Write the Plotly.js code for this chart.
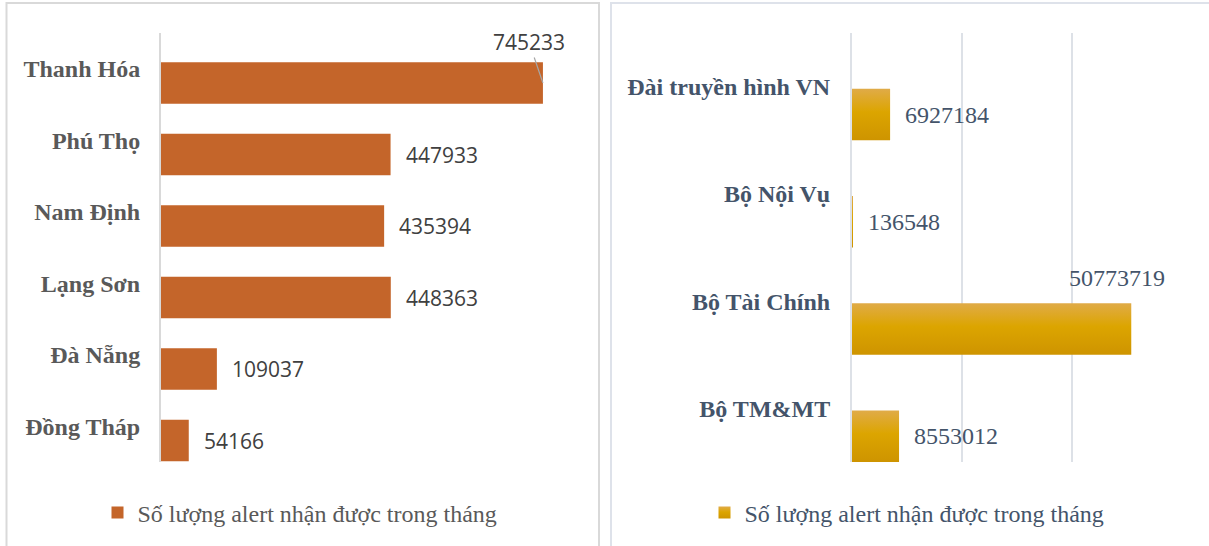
<!DOCTYPE html>
<html>
<head>
<meta charset="utf-8">
<script src="https://cdn.plot.ly/plotly-3.0.1.min.js"></script>
<style>
  html, body { margin: 0; padding: 0; background: #ffffff; }
  #chart { width: 1209px; height: 546px; }
</style>
</head>
<body>
<div id="chart"></div>
<script>
// ---- Data ----
const provinces = ["Thanh Hóa", "Phú Thọ", "Nam Định", "Lạng Sơn", "Đà Nẵng", "Đồng Tháp"];
const provinceAlerts = [745233, 447933, 435394, 448363, 109037, 54166];

const agencies = ["Đài truyền hình VN", "Bộ Nội Vụ", "Bộ Tài Chính", "Bộ TM&MT"];
const agencyAlerts = [6927184, 136548, 50773719, 8553012];

const seriesName = "Số lượng alert nhận được trong tháng";

// ---- Styling ----
const W = 1209, H = 546;
const px = v => v / W;
const py = v => (H - v) / H;
const plotTop = 33, plotBottom = 462;

const orange = "#C4652A";
const gold = "#D9A206";
const grayText = "#595959";
const slateText = "#44546A";
const serif = "Liberation Serif, Times New Roman, serif";
const sans = "Open Sans, Liberation Sans, sans-serif";

// bars sit in the lower part of each category slot (as in the source chart)
const leftBar = { offset: -0.49, width: 0.58 };
const rightBar = { offset: -0.5, width: 0.48 };

const traces = [
  {
    type: "bar", orientation: "h",
    x: provinceAlerts, y: provinces,
    xaxis: "x", yaxis: "y",
    name: seriesName, legend: "legend",
    marker: { color: orange },
    offset: leftBar.offset, width: leftBar.width,
    hoverinfo: "x+y"
  },
  {
    type: "bar", orientation: "h",
    x: agencyAlerts, y: agencies,
    xaxis: "x2", yaxis: "y2",
    name: seriesName, legend: "legend2",
    marker: { color: gold },
    offset: rightBar.offset, width: rightBar.width,
    hoverinfo: "x+y"
  }
];

function labels(values, cats, xref, yref, font, bar, maxStyle, maxLift) {
  const maxV = Math.max(...values);
  const slotPx = (plotBottom - plotTop) / cats.length;
  const centerShift = (bar.offset + bar.width / 2) * slotPx;
  return values.map((v, i) => {
    const base = {
      x: v, y: cats[i], xref: xref, yref: yref,
      text: String(v), font: font, yshift: centerShift
    };
    if (v === maxV) {
      return Object.assign(base, maxStyle, { yshift: centerShift + maxLift });
    }
    return Object.assign(base, {
      showarrow: false, xanchor: "left", yanchor: "middle", xshift: 13
    });
  });
}

const annotations = [].concat(
  labels(provinceAlerts, provinces, "x", "y",
    { family: sans, size: 21, color: "#404040" }, leftBar,
    { showarrow: true, ax: -14, ay: -41, arrowhead: 0, arrowwidth: 1.2,
      arrowcolor: "#A6A6A6", standoff: 0, xanchor: "center", yanchor: "middle" }, 0),
  labels(agencyAlerts, agencies, "x2", "y2",
    { family: serif, size: 24, color: slateText }, rightBar,
    { showarrow: false, xanchor: "center", yanchor: "middle", xshift: -14 }, 51)
);

const layout = {
  width: W, height: H,
  margin: { l: 0, r: 0, t: 0, b: 0 },
  paper_bgcolor: "#ffffff",
  plot_bgcolor: "rgba(0,0,0,0)",
  showlegend: true,
  xaxis: {
    domain: [px(161), px(571)], range: [0, 800000],
    showgrid: false, zeroline: false, showticklabels: false, showline: false,
    fixedrange: true
  },
  yaxis: {
    domain: [py(plotBottom), py(plotTop)],
    type: "category",
    categoryorder: "array", categoryarray: provinces.slice().reverse(),
    range: [-0.5, provinces.length - 0.5], autorange: false,
    showline: true, linecolor: "#D9D9D9", linewidth: 2,
    showgrid: false, zeroline: false, ticks: "",
    tickfont: { family: serif, size: 24, color: grayText, weight: 700 },
    ticklabelstandoff: 14,
    automargin: false, fixedrange: true
  },
  xaxis2: {
    domain: [px(852), px(1182)], range: [0, 60000000], dtick: 20000000,
    showgrid: true, gridcolor: "#DDE1E7", gridwidth: 2,
    zeroline: false, showticklabels: false, showline: false,
    anchor: "y2", fixedrange: true
  },
  yaxis2: {
    domain: [py(plotBottom), py(plotTop)],
    type: "category", anchor: "x2",
    categoryorder: "array", categoryarray: agencies.slice().reverse(),
    range: [-0.5, agencies.length - 0.5], autorange: false,
    showline: true, linecolor: "#DDE1E7", linewidth: 2,
    showgrid: false, zeroline: false, ticks: "",
    tickfont: { family: serif, size: 24, color: slateText, weight: 700 },
    ticklabelstandoff: 15,
    automargin: false, fixedrange: true
  },
  legend: {
    orientation: "h", x: px(300), y: py(513), xanchor: "center", yanchor: "middle",
    font: { family: serif, size: 24, color: grayText },
    bgcolor: "rgba(0,0,0,0)"
  },
  legend2: {
    orientation: "h", x: px(907), y: py(513), xanchor: "center", yanchor: "middle",
    font: { family: serif, size: 24, color: slateText },
    bgcolor: "rgba(0,0,0,0)"
  },
  annotations: annotations,
  shapes: [
    { type: "rect", xref: "paper", yref: "paper",
      x0: px(6.5), x1: px(599), y0: -0.05, y1: py(3),
      line: { color: "#D9D9D9", width: 2 }, fillcolor: "rgba(0,0,0,0)", layer: "below" },
    { type: "rect", xref: "paper", yref: "paper",
      x0: px(611), x1: 1.05, y0: -0.05, y1: py(3),
      line: { color: "#DEE2EA", width: 2 }, fillcolor: "rgba(0,0,0,0)", layer: "below" }
  ]
};

// vertical gold gradient on the right-hand bars (as in the source chart)
function applyGoldGradient(gd) {
  const ns = "http://www.w3.org/2000/svg";
  const svg = gd.querySelector("svg.main-svg");
  if (!svg) return;
  if (!document.getElementById("goldGrad")) {
    let defs = svg.querySelector("defs");
    if (!defs) { defs = document.createElementNS(ns, "defs"); svg.insertBefore(defs, svg.firstChild); }
    const lg = document.createElementNS(ns, "linearGradient");
    lg.setAttribute("id", "goldGrad");
    lg.setAttribute("x1", "0"); lg.setAttribute("y1", "0");
    lg.setAttribute("x2", "0"); lg.setAttribute("y2", "1");
    [["0%", "#E0AB48"], ["45%", "#DCA500"], ["100%", "#CE9400"]].forEach(([o, c]) => {
      const s = document.createElementNS(ns, "stop");
      s.setAttribute("offset", o); s.setAttribute("stop-color", c);
      lg.appendChild(s);
    });
    defs.appendChild(lg);
  }
  gd.querySelectorAll(".subplot.x2y2 .barlayer .point path").forEach(p => {
    p.style.fill = "url(#goldGrad)";
  });
  gd.querySelectorAll(".legend2 .legendpoints path, g.legend2 .legendpoints path").forEach(p => {
    p.style.fill = "url(#goldGrad)";
  });
}

const gd = document.getElementById("chart");
Plotly.newPlot(gd, traces, layout, { displayModeBar: false, responsive: false }).then(() => {
  applyGoldGradient(gd);
  gd.on("plotly_afterplot", () => applyGoldGradient(gd));
});
</script>
</body>
</html>
